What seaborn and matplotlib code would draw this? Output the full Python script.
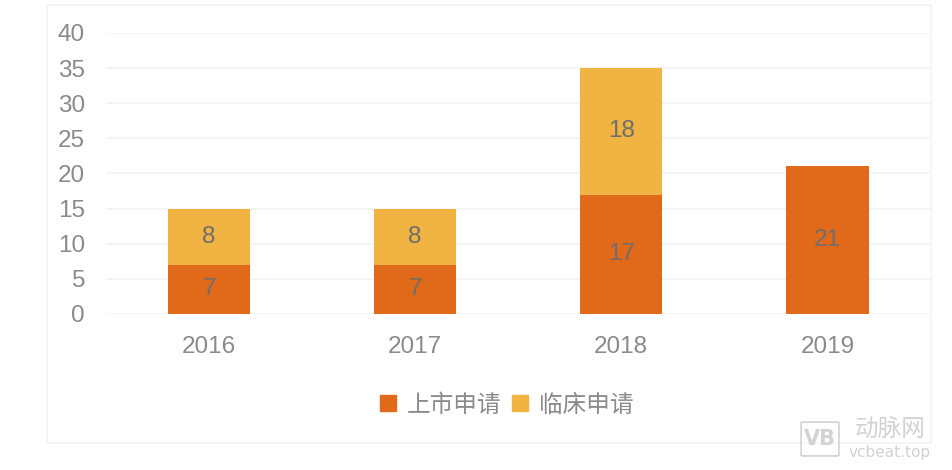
import matplotlib
matplotlib.use("Agg")
import matplotlib.pyplot as plt
import seaborn as sns
import pandas as pd
from matplotlib.patches import Rectangle, FancyBboxPatch
from matplotlib.lines import Line2D

# 数据
years = ["2016", "2017", "2018", "2019"]
market = [7, 7, 17, 21]      # 上市申请
clinical = [8, 8, 18, 0]     # 临床申请
series_names = ["上市申请", "临床申请"]

c_market = "#E0691A"
c_clinical = "#F1B443"
num_font = "Liberation Sans"

sns.set_theme(style="white")
plt.rcParams['font.family'] = ['Noto Sans CJK SC', 'DejaVu Sans']
plt.rcParams['axes.unicode_minus'] = False

df = pd.DataFrame({"year": years, "market": market, "clinical": clinical})
df["total"] = df["market"] + df["clinical"]

fig = plt.figure(figsize=(9.52, 4.70), dpi=100)
ax = fig.add_axes([0.1113, 0.332, 0.866, 0.598])

# 外框
fig.patches.append(Rectangle((47 / 952, 1 - 443 / 470), (931 - 47) / 952, (443 - 5) / 470,
                             transform=fig.transFigure, fill=False,
                             edgecolor="#F3F3F3", linewidth=1.2, zorder=0))

# 堆叠柱：先画总高度（浅色），再画底部（深色）
sns.barplot(data=df, x="year", y="total", color=c_clinical, width=0.4,
            saturation=1, linewidth=0, ax=ax, zorder=2)
sns.barplot(data=df, x="year", y="market", color=c_market, width=0.4,
            saturation=1, linewidth=0, ax=ax, zorder=3)

# 数值标签
for i, (m, c) in enumerate(zip(market, clinical)):
    if m > 0:
        ax.text(i, m / 2, str(m), ha="center", va="center", fontsize=17.5,
                color="#6E6E6E", family=num_font, zorder=5)
    if c > 0:
        ax.text(i, m + c / 2, str(c), ha="center", va="center", fontsize=17.5,
                color="#6E6E6E", family=num_font, zorder=5)

ax.set_ylim(0, 40)
ax.set_xlim(-0.5, 3.5)
ax.set_yticks(range(0, 41, 5))
ax.yaxis.grid(True, color="#F3F3F3", linewidth=1.2)
ax.set_axisbelow(True)
for s in ax.spines.values():
    s.set_visible(False)
ax.set_xlabel("")
ax.set_ylabel("")
ax.tick_params(axis="both", length=0, labelsize=17.5, labelcolor="#8A8A8A")
ax.tick_params(axis="y", pad=15)
ax.tick_params(axis="x", pad=16)
for lab in ax.get_xticklabels() + ax.get_yticklabels():
    lab.set_family(num_font)

# 图例
handles = [Line2D([0], [0], marker="s", linestyle="", markersize=12,
                  markerfacecolor=c, markeredgecolor=c)
           for c in (c_market, c_clinical)]
leg = fig.legend(handles, series_names, loc="center", bbox_to_anchor=(505 / 952, 1 - 405 / 470),
                 ncol=2, frameon=False, fontsize=17, handletextpad=0.3,
                 columnspacing=0.3, handlelength=1.0)
for t in leg.get_texts():
    t.set_color("#8A8A8A")

# 水印
fig.patches.append(FancyBboxPatch((803 / 952, 1 - 455 / 470), 34 / 952, 32 / 470,
                                  boxstyle="round,pad=0.002", transform=fig.transFigure,
                                  fill=False, edgecolor="#D2D2D2", linewidth=1.2))
fig.text(820 / 952, 1 - 439 / 470, "VB", ha="center", va="center", fontsize=15,
         color="#D2D2D2", fontweight="bold", family="DejaVu Sans")
fig.text(890 / 952, 1 - 430 / 470, "动脉网", ha="center", va="center", fontsize=17,
         color="#D2D2D2")
fig.text(890 / 952, 1 - 452 / 470, "vcbeat.top", ha="center", va="center", fontsize=11,
         color="#D2D2D2", family="DejaVu Sans")

plt.savefig("out.png", dpi=100)
